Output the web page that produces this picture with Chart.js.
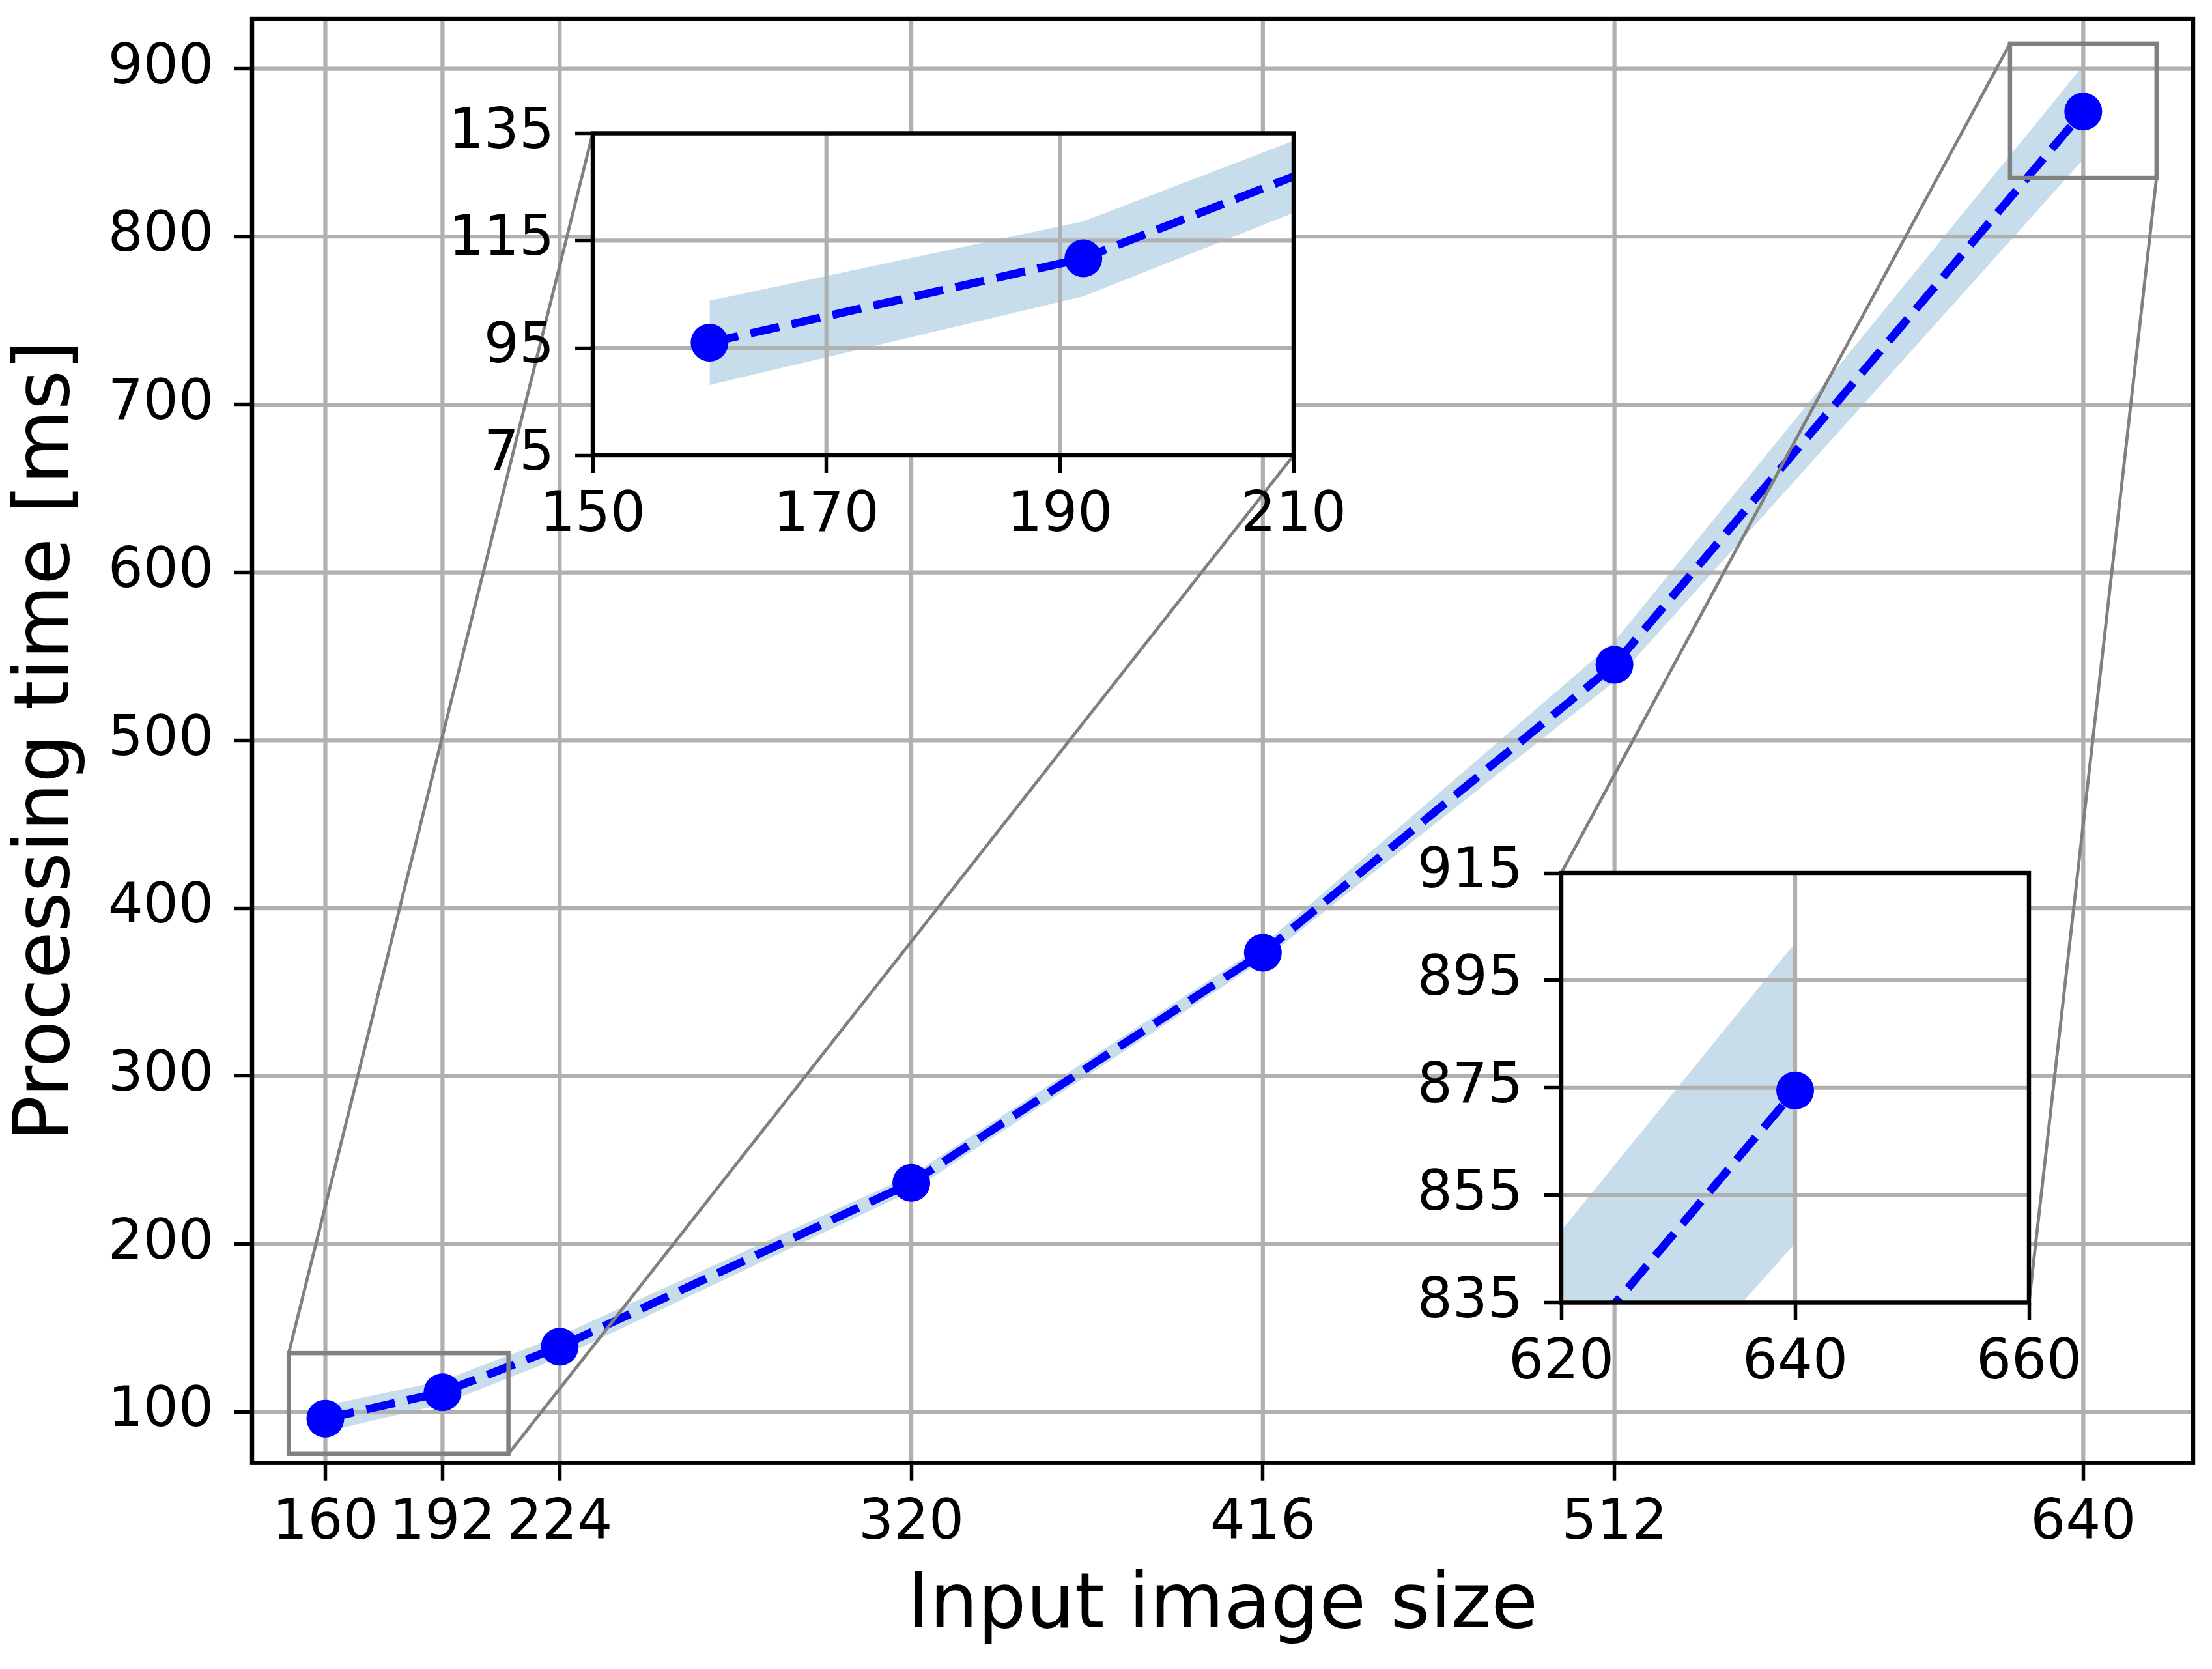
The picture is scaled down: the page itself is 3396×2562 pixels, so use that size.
<!DOCTYPE html>
<html>
<head>
<meta charset="utf-8">
<script src="https://cdn.jsdelivr.net/npm/chart.js@4.4.1/dist/chart.umd.min.js"></script>
<style>
  html, body { margin: 0; padding: 0; background: #ffffff; }
  #wrap { position: relative; width: 3396px; height: 2562px; background: #ffffff; }
  #wrap canvas { position: absolute; left: 0; top: 0; }
  #mainChart { z-index: 0; }
  #inset1 { z-index: 1; }
  #inset2 { z-index: 2; }
</style>
</head>
<body>
<div id="wrap">
  <canvas id="mainChart" width="3396" height="2562"></canvas>
  <canvas id="inset1" width="3396" height="2562"></canvas>
  <canvas id="inset2" width="3396" height="2562"></canvas>
</div>
<script>
// ---------------- data ----------------
const sizes   = [160, 192, 224, 320, 416, 512, 640];
const meanMs  = [96.0, 111.7, 138.8, 236.4, 373.5, 545.0, 874.5];
const upperMs = [103.8, 118.6, 145.3, 241.0, 378.0, 559.0, 902.0];
const lowerMs = [88.1, 104.6, 132.3, 231.5, 369.0, 535.0, 846.0];

const mainYTicks   = [100, 200, 300, 400, 500, 600, 700, 800, 900];
const inset1XTicks = [150, 170, 190, 210];
const inset1YTicks = [75, 95, 115, 135];
const inset2XTicks = [620, 640, 660];
const inset2YTicks = [835, 855, 875, 895, 915];

const xAxisLabel = 'Input image size';
const yAxisLabel = 'Processing time [ms]';

// ---------------- styles / layout ----------------
const PAGE_W = 3396, PAGE_H = 2562;
const FONT = 'DejaVu Sans';
const TICK_PX = 85, LABEL_PX = 117;
const LINE_W = 12.5, DASH = [45, 19.5], MARKER_R = 29;
const BLUE = '#0000ff';
const BAND = 'rgba(31,119,180,0.25)';
const GRID = '#b0b0b0', GRID_W = 6.2;
const SPINE_W = 6.4, TICK_LEN = 27, TICK_W = 5.5;
const INDICATOR = '#808080';

const gridAboveFill = {
  id: 'gridAboveFill',
  afterDatasetDraw(chart, args) {
    if (args.index !== 1) return;
    const { ctx, chartArea: a, scales: { x, y } } = chart;
    ctx.save();
    ctx.beginPath(); ctx.rect(a.left, a.top, a.width, a.height); ctx.clip();
    ctx.setLineDash([]);
    ctx.strokeStyle = GRID; ctx.lineWidth = GRID_W;
    ctx.beginPath();
    x.ticks.forEach(t => { const p = x.getPixelForValue(t.value); ctx.moveTo(p, a.top); ctx.lineTo(p, a.bottom); });
    y.ticks.forEach(t => { const p = y.getPixelForValue(t.value); ctx.moveTo(a.left, p); ctx.lineTo(a.right, p); });
    ctx.stroke();
    ctx.restore();
  }
};

const frame = {
  id: 'frame',
  beforeDraw(chart, args, opts) {
    if (!opts.whiteBg) return;
    const { ctx, chartArea: a } = chart;
    ctx.save(); ctx.fillStyle = '#ffffff';
    ctx.fillRect(a.left, a.top, a.width, a.height);
    ctx.restore();
  },
  afterDatasetsDraw(chart) {
    const { ctx, chartArea: a } = chart;
    ctx.save(); ctx.setLineDash([]);
    ctx.strokeStyle = '#000000'; ctx.lineWidth = SPINE_W;
    ctx.strokeRect(a.left, a.top, a.width, a.height);
    ctx.restore();
  }
};

function buildConfig(o) {
  const W = o.yAxisW || 420, H = o.xAxisH || 200;
  return {
    type: 'line',
    data: {
      datasets: [
        { data: sizes.map((v, i) => ({ x: v, y: meanMs[i] })), borderColor: BLUE, borderWidth: LINE_W,
          borderDash: DASH, borderCapStyle: 'butt', pointRadius: MARKER_R, pointHoverRadius: MARKER_R,
          pointBackgroundColor: BLUE, pointBorderColor: BLUE, pointBorderWidth: 0, fill: false, tension: 0, order: 0 },
        { data: sizes.map((v, i) => ({ x: v, y: upperMs[i] })), borderColor: 'rgba(0,0,0,0)', borderWidth: 1,
          pointRadius: 0, fill: '+1', backgroundColor: BAND, tension: 0, order: 1 },
        { data: sizes.map((v, i) => ({ x: v, y: lowerMs[i] })), borderColor: 'rgba(0,0,0,0)', borderWidth: 1,
          pointRadius: 0, fill: false, tension: 0, order: 2 }
      ]
    },
    options: {
      responsive: false, animation: false, devicePixelRatio: 1, events: [],
      layout: { padding: { left: o.area.left - W, top: o.area.top, right: PAGE_W - o.area.right, bottom: PAGE_H - o.area.bottom - H } },
      plugins: { legend: { display: false }, tooltip: { enabled: false }, frame: { whiteBg: !!o.whiteBg } },
      scales: {
        x: {
          type: 'linear', min: o.xMin, max: o.xMax,
          afterBuildTicks: s => { s.ticks = o.xTicks.map(v => ({ value: v })); },
          afterFit: s => { s.height = H; s.paddingLeft = 0; s.paddingRight = 0; s.paddingTop = 0; s.paddingBottom = 0; },
          grid: { display: true, drawOnChartArea: false, drawTicks: true, tickLength: TICK_LEN, tickWidth: TICK_W, tickColor: '#000000' },
          border: { display: false },
          ticks: { font: { family: FONT, size: TICK_PX }, color: '#000000', padding: 16, autoSkip: false, maxRotation: 0, minRotation: 0,
                   callback: v => String(v) },
          title: o.xTitle ? { display: true, text: o.xTitle, color: '#000000', font: { family: FONT, size: LABEL_PX }, padding: { top: 0, bottom: 24 } } : { display: false }
        },
        y: {
          type: 'linear', min: o.yMin, max: o.yMax,
          afterBuildTicks: s => { s.ticks = o.yTicks.map(v => ({ value: v })); },
          afterFit: s => { s.width = W; s.paddingLeft = 0; s.paddingRight = 0; s.paddingTop = 0; s.paddingBottom = 0; },
          grid: { display: true, drawOnChartArea: false, drawTicks: true, tickLength: TICK_LEN, tickWidth: TICK_W, tickColor: '#000000' },
          border: { display: false },
          ticks: { font: { family: FONT, size: TICK_PX }, color: '#000000', padding: 32, autoSkip: false,
                   callback: v => String(v) },
          title: o.yTitle ? { display: true, text: o.yTitle, color: '#000000', font: { family: FONT, size: LABEL_PX }, padding: { top: 4, bottom: 0 } } : { display: false }
        }
      }
    },
    plugins: [frame, gridAboveFill].concat(o.extraPlugins || [])
  };
}

// ---------------- insets ----------------
const inset1 = new Chart(document.getElementById('inset1'), buildConfig({
  area: { left: 910, top: 204.5, right: 1986, bottom: 699 },
  xMin: inset1XTicks[0], xMax: inset1XTicks[inset1XTicks.length - 1],
  yMin: inset1YTicks[0], yMax: inset1YTicks[inset1YTicks.length - 1],
  xTicks: inset1XTicks, yTicks: inset1YTicks, whiteBg: true
}));

const inset2 = new Chart(document.getElementById('inset2'), buildConfig({
  area: { left: 2397, top: 1340, right: 3115, bottom: 1999.5 },
  xMin: inset2XTicks[0], xMax: inset2XTicks[inset2XTicks.length - 1],
  yMin: inset2YTicks[0], yMax: inset2YTicks[inset2YTicks.length - 1],
  xTicks: inset2XTicks, yTicks: inset2YTicks, whiteBg: true
}));

// ---------------- zoom indicators on main ----------------
const zoomIndicator = {
  id: 'zoomIndicator',
  afterDatasetsDraw(chart) {
    const { ctx, scales: { x, y } } = chart;
    const regions = [
      { inset: inset1, x0: inset1XTicks[0], x1: inset1XTicks[inset1XTicks.length - 1], y0: inset1YTicks[0], y1: inset1YTicks[inset1YTicks.length - 1] },
      { inset: inset2, x0: inset2XTicks[0], x1: inset2XTicks[inset2XTicks.length - 1], y0: inset2YTicks[0], y1: inset2YTicks[inset2YTicks.length - 1] }
    ];
    ctx.save(); ctx.setLineDash([]);
    ctx.strokeStyle = INDICATOR;
    regions.forEach(r => {
      const L = x.getPixelForValue(r.x0), R = x.getPixelForValue(r.x1);
      const T = y.getPixelForValue(r.y1), B = y.getPixelForValue(r.y0);
      ctx.lineWidth = 6.5;
      ctx.strokeRect(L, T, R - L, B - T);
      const a = r.inset.chartArea;
      ctx.lineWidth = 4.8;
      ctx.beginPath();
      ctx.moveTo(L, T); ctx.lineTo(a.left, a.top);
      ctx.moveTo(R, B); ctx.lineTo(a.right, a.bottom);
      ctx.stroke();
    });
    ctx.restore();
  }
};

// ---------------- main chart ----------------
const mainArea = { left: 387, top: 29, right: 3368, bottom: 2245.7 };
const mainChart = new Chart(document.getElementById('mainChart'), buildConfig({
  area: mainArea, yAxisW: 387, xAxisH: PAGE_H - 2245.7,
  xMin: 140, xMax: 670, yMin: 69.6, yMax: 929.7,
  xTicks: sizes, yTicks: mainYTicks,
  xTitle: xAxisLabel, yTitle: yAxisLabel,
  extraPlugins: [zoomIndicator]
}));
</script>
</body>
</html>
